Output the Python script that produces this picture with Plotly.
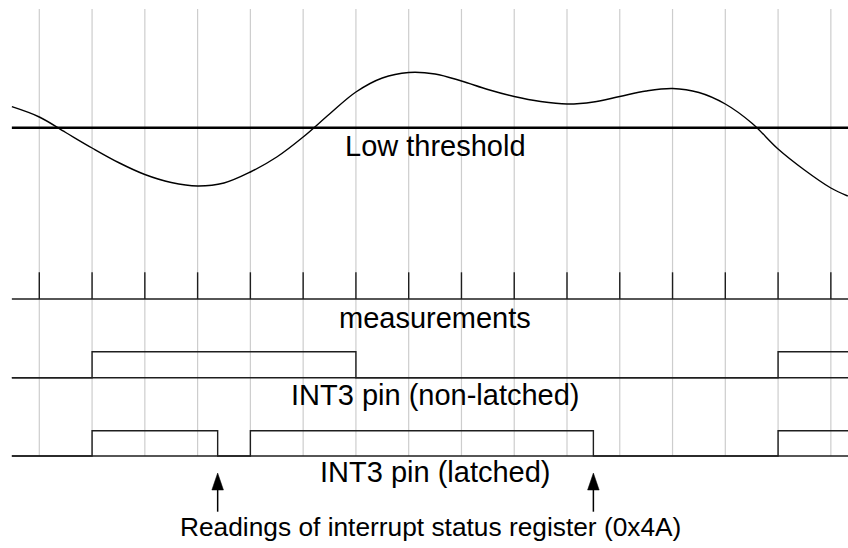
import plotly.graph_objects as go

# ---------------- data ----------------
# analog input signal (time in measurement periods, value in arbitrary units)
signal_t = [-0.52, 0.0, 0.5, 1.0, 1.5, 2.0, 2.5, 3.0, 3.5, 4.0, 4.5, 5.0, 5.5, 6.0, 6.5,
            7.0, 7.5, 8.0, 8.5, 9.0, 9.5, 10.0, 10.5, 11.0, 11.5, 12.0, 12.5, 13.0, 13.5,
            14.0, 14.5, 15.0, 15.32]
signal_v = [1.42, 1.214, 0.904, 0.594, 0.304, 0.064, -0.096, -0.166, -0.106, 0.114, 0.414,
            0.814, 1.274, 1.714, 1.994, 2.104, 2.074, 1.934, 1.764, 1.624, 1.524, 1.474,
            1.514, 1.624, 1.734, 1.784, 1.704, 1.474, 1.094, 0.574, 0.154, -0.206, -0.366]
low_threshold = 1.0

# measurement instants
measurement_times = list(range(16))

# INT3 pin, non-latched mode (step signal: time, level)
nonlatched_t = [-0.52, 1, 6, 14, 15.4]
nonlatched_level = [0, 1, 0, 1, 1]

# INT3 pin, latched mode
latched_t = [-0.52, 1, 3.38, 4, 10.5, 14, 15.4]
latched_level = [0, 1, 0, 1, 0, 1, 1]

# reads of the interrupt status register
reading_times = [3.38, 10.5]

row_labels = ["Low threshold", "measurements", "INT3 pin (non-latched)", "INT3 pin (latched)"]
reading_label = "Readings of interrupt status register (0x4A)"

# ---------------- layout helpers ----------------
W, H = 848, 548
X0, DT = 39.3, 52.77          # pixel of t=0, pixels per period
x_range = [(0 - X0) / DT, (W - X0) / DT]
t_start, t_end = -0.52, 15.4


def band(px_top, px_bot, px_zero, px_one):
    def val(px):
        return (px - px_zero) / (px_one - px_zero)
    return dict(domain=[1 - px_bot / H, 1 - px_top / H],
                range=[val(px_bot), val(px_top)])


def paper_y(px):
    return 1 - px / H


FONT = "Liberation Sans, Arial, Helvetica, sans-serif"
DARK = "#1e1e1e"
GRID = "#cdcdcd"

fig = go.Figure()

# analog signal + threshold
fig.add_trace(go.Scatter(x=[t_start, t_end], y=[low_threshold, low_threshold], mode="lines",
                         line=dict(color="black", width=2.4), yaxis="y", hoverinfo="skip"))
fig.add_trace(go.Scatter(x=signal_t, y=signal_v, mode="lines",
                         line=dict(color="black", width=1.4, shape="spline", smoothing=1.0),
                         yaxis="y", hoverinfo="skip"))

# measurement ticks
tick_x, tick_y = [], []
for t in measurement_times:
    tick_x += [t, t, None]
    tick_y += [0, 1, None]
fig.add_trace(go.Scatter(x=[t_start, t_end], y=[0, 0], mode="lines",
                         line=dict(color=DARK, width=1.4), yaxis="y2", hoverinfo="skip"))
fig.add_trace(go.Scatter(x=tick_x, y=tick_y, mode="lines",
                         line=dict(color=DARK, width=1.4), yaxis="y2", hoverinfo="skip"))

# digital rows
fig.add_trace(go.Scatter(x=nonlatched_t, y=nonlatched_level, mode="lines",
                         line=dict(color=DARK, width=1.4, shape="hv"), yaxis="y3", hoverinfo="skip"))
fig.add_trace(go.Scatter(x=[t_start, t_end], y=[0, 0], mode="lines",
                         line=dict(color=DARK, width=1.4), yaxis="y3", hoverinfo="skip"))
fig.add_trace(go.Scatter(x=latched_t, y=latched_level, mode="lines",
                         line=dict(color=DARK, width=1.4, shape="hv"), yaxis="y4", hoverinfo="skip"))
fig.add_trace(go.Scatter(x=[t_start, t_end], y=[0, 0], mode="lines",
                         line=dict(color=DARK, width=1.4), yaxis="y4", hoverinfo="skip"))

shapes = []
# vertical grid lines at each measurement
for t in measurement_times:
    shapes.append(dict(type="line", xref="x", yref="paper", x0=t, x1=t,
                       y0=paper_y(456), y1=paper_y(9), layer="below",
                       line=dict(color=GRID, width=1.2)))
# arrows pointing at the register reads
for t in reading_times:
    shapes.append(dict(type="path", xref="x", yref="paper", xsizemode="pixel", ysizemode="pixel",
                       xanchor=t, yanchor=paper_y(473),
                       path="M0,0 L5.8,-17 L-5.8,-17 Z", fillcolor="black",
                       line=dict(color="black", width=0.5)))
    shapes.append(dict(type="path", xref="x", yref="paper", xsizemode="pixel", ysizemode="pixel",
                       xanchor=t, yanchor=paper_y(473),
                       path="M0,-16 L0,-38.7",
                       line=dict(color="black", width=1.5)))

label_y = [146, 317.5, 395, 471.5]
annotations = []
for txt, py in zip(row_labels, label_y):
    annotations.append(dict(text=txt, xref="x", yref="paper", x=7.5, y=paper_y(py),
                            xanchor="center", yanchor="middle", showarrow=False,
                            font=dict(family=FONT, size=29, color="black")))
annotations.append(dict(text=reading_label, xref="paper", yref="paper", x=430.5 / W, y=paper_y(526.5),
                        xanchor="center", yanchor="middle", showarrow=False,
                        font=dict(family=FONT, size=26.3, color="black")))

hidden = dict(visible=False, showgrid=False, zeroline=False, fixedrange=True)
fig.update_layout(
    width=W, height=H, margin=dict(l=0, r=0, t=0, b=0),
    paper_bgcolor="white", plot_bgcolor="rgba(0,0,0,0)", showlegend=False,
    xaxis=dict(range=x_range, domain=[0, 1], anchor="y", **hidden),
    yaxis=dict(anchor="x", **band(0, 240, 177.7, 127.7), **hidden),
    yaxis2=dict(anchor="x", **band(260, 310, 299, 272.3), **hidden),
    yaxis3=dict(anchor="x", **band(330, 385, 377.7, 351.7), **hidden),
    yaxis4=dict(anchor="x", **band(410, 465, 456, 430.7), **hidden),
    shapes=shapes, annotations=annotations,
)

fig.write_html("out.html", config={"displayModeBar": False},
               post_script="document.body.style.margin='0';document.body.style.overflow='hidden';")
